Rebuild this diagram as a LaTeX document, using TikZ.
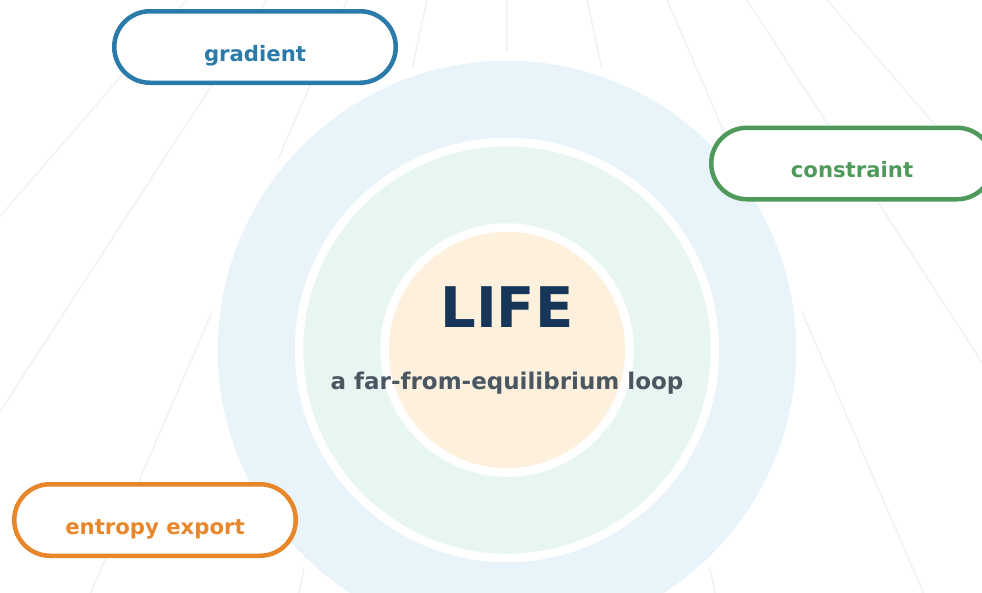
\documentclass[tikz,border=0pt]{standalone}
\usepackage{fontspec}
\setmainfont{DejaVu Sans}
\definecolor{rayc}{HTML}{EDF3F6}
\definecolor{outerc}{HTML}{E8F3FA}
\definecolor{midc}{HTML}{E7F6F2}
\definecolor{corec}{HTML}{FDF0DC}
\definecolor{lifec}{HTML}{163659}
\definecolor{subc}{HTML}{4A5763}
\definecolor{gradc}{HTML}{2A7BA9}
\definecolor{consc}{HTML}{4F9A5A}
\definecolor{entc}{HTML}{E8862A}
\begin{document}
\begin{tikzpicture}[x=1pt,y=-1pt,
  ray/.style={draw=rayc,line width=1.6pt},
  ring/.style={circle,draw=white,line width=8.5pt,inner sep=0pt},
  pill/.style={rectangle,rounded corners=35.7pt,minimum width=281.5pt,
    minimum height=71.5pt,line width=4.5pt,fill=white,inner sep=0pt},
  pilltext/.style={anchor=base,inner sep=0pt,font=\fontsize{21.2}{24}\selectfont\bfseries}]
\useasboundingbox (0,0) rectangle (982,592);
\clip (0,0) rectangle (982,592);
% background fan of faint lines
\foreach \k in {-4,...,4}
  \draw[ray] ({507+80*\k*(360/370)},-10) -- ({507+80*\k*(1010/370)},640);
% nested discs
\node[ring,fill=outerc,minimum size=587pt] (outer) at (507,350) {};
\node[ring,fill=midc,minimum size=416pt] (mid) at (507,350) {};
\node[ring,fill=corec,minimum size=245pt] (core) at (507,350) {};
% titles
\node[anchor=base,inner sep=0pt,text=lifec,font=\fontsize{56}{60}\selectfont\bfseries] (life) at (507,327.3) {LIFE};
\node[anchor=base,inner sep=0pt,text=subc,font=\fontsize{23}{26}\selectfont\bfseries] (sub) at (507,389.3) {a far-from-equilibrium loop};
% the three drivers
\node[pill,draw=gradc] (grad) at (255,47) {};
\node[pilltext,text=gradc] (gradt) at ([yshift=-14pt]grad.center) {gradient};
\node[pill,draw=consc] (cons) at (852,163.5) {};
\node[pilltext,text=consc] (const) at ([yshift=-14pt]cons.center) {constraint};
\node[pill,draw=entc] (ent) at (155,520) {};
\node[pilltext,text=entc] (entt) at ([yshift=-14pt]ent.center) {entropy export};
\end{tikzpicture}
\end{document}
